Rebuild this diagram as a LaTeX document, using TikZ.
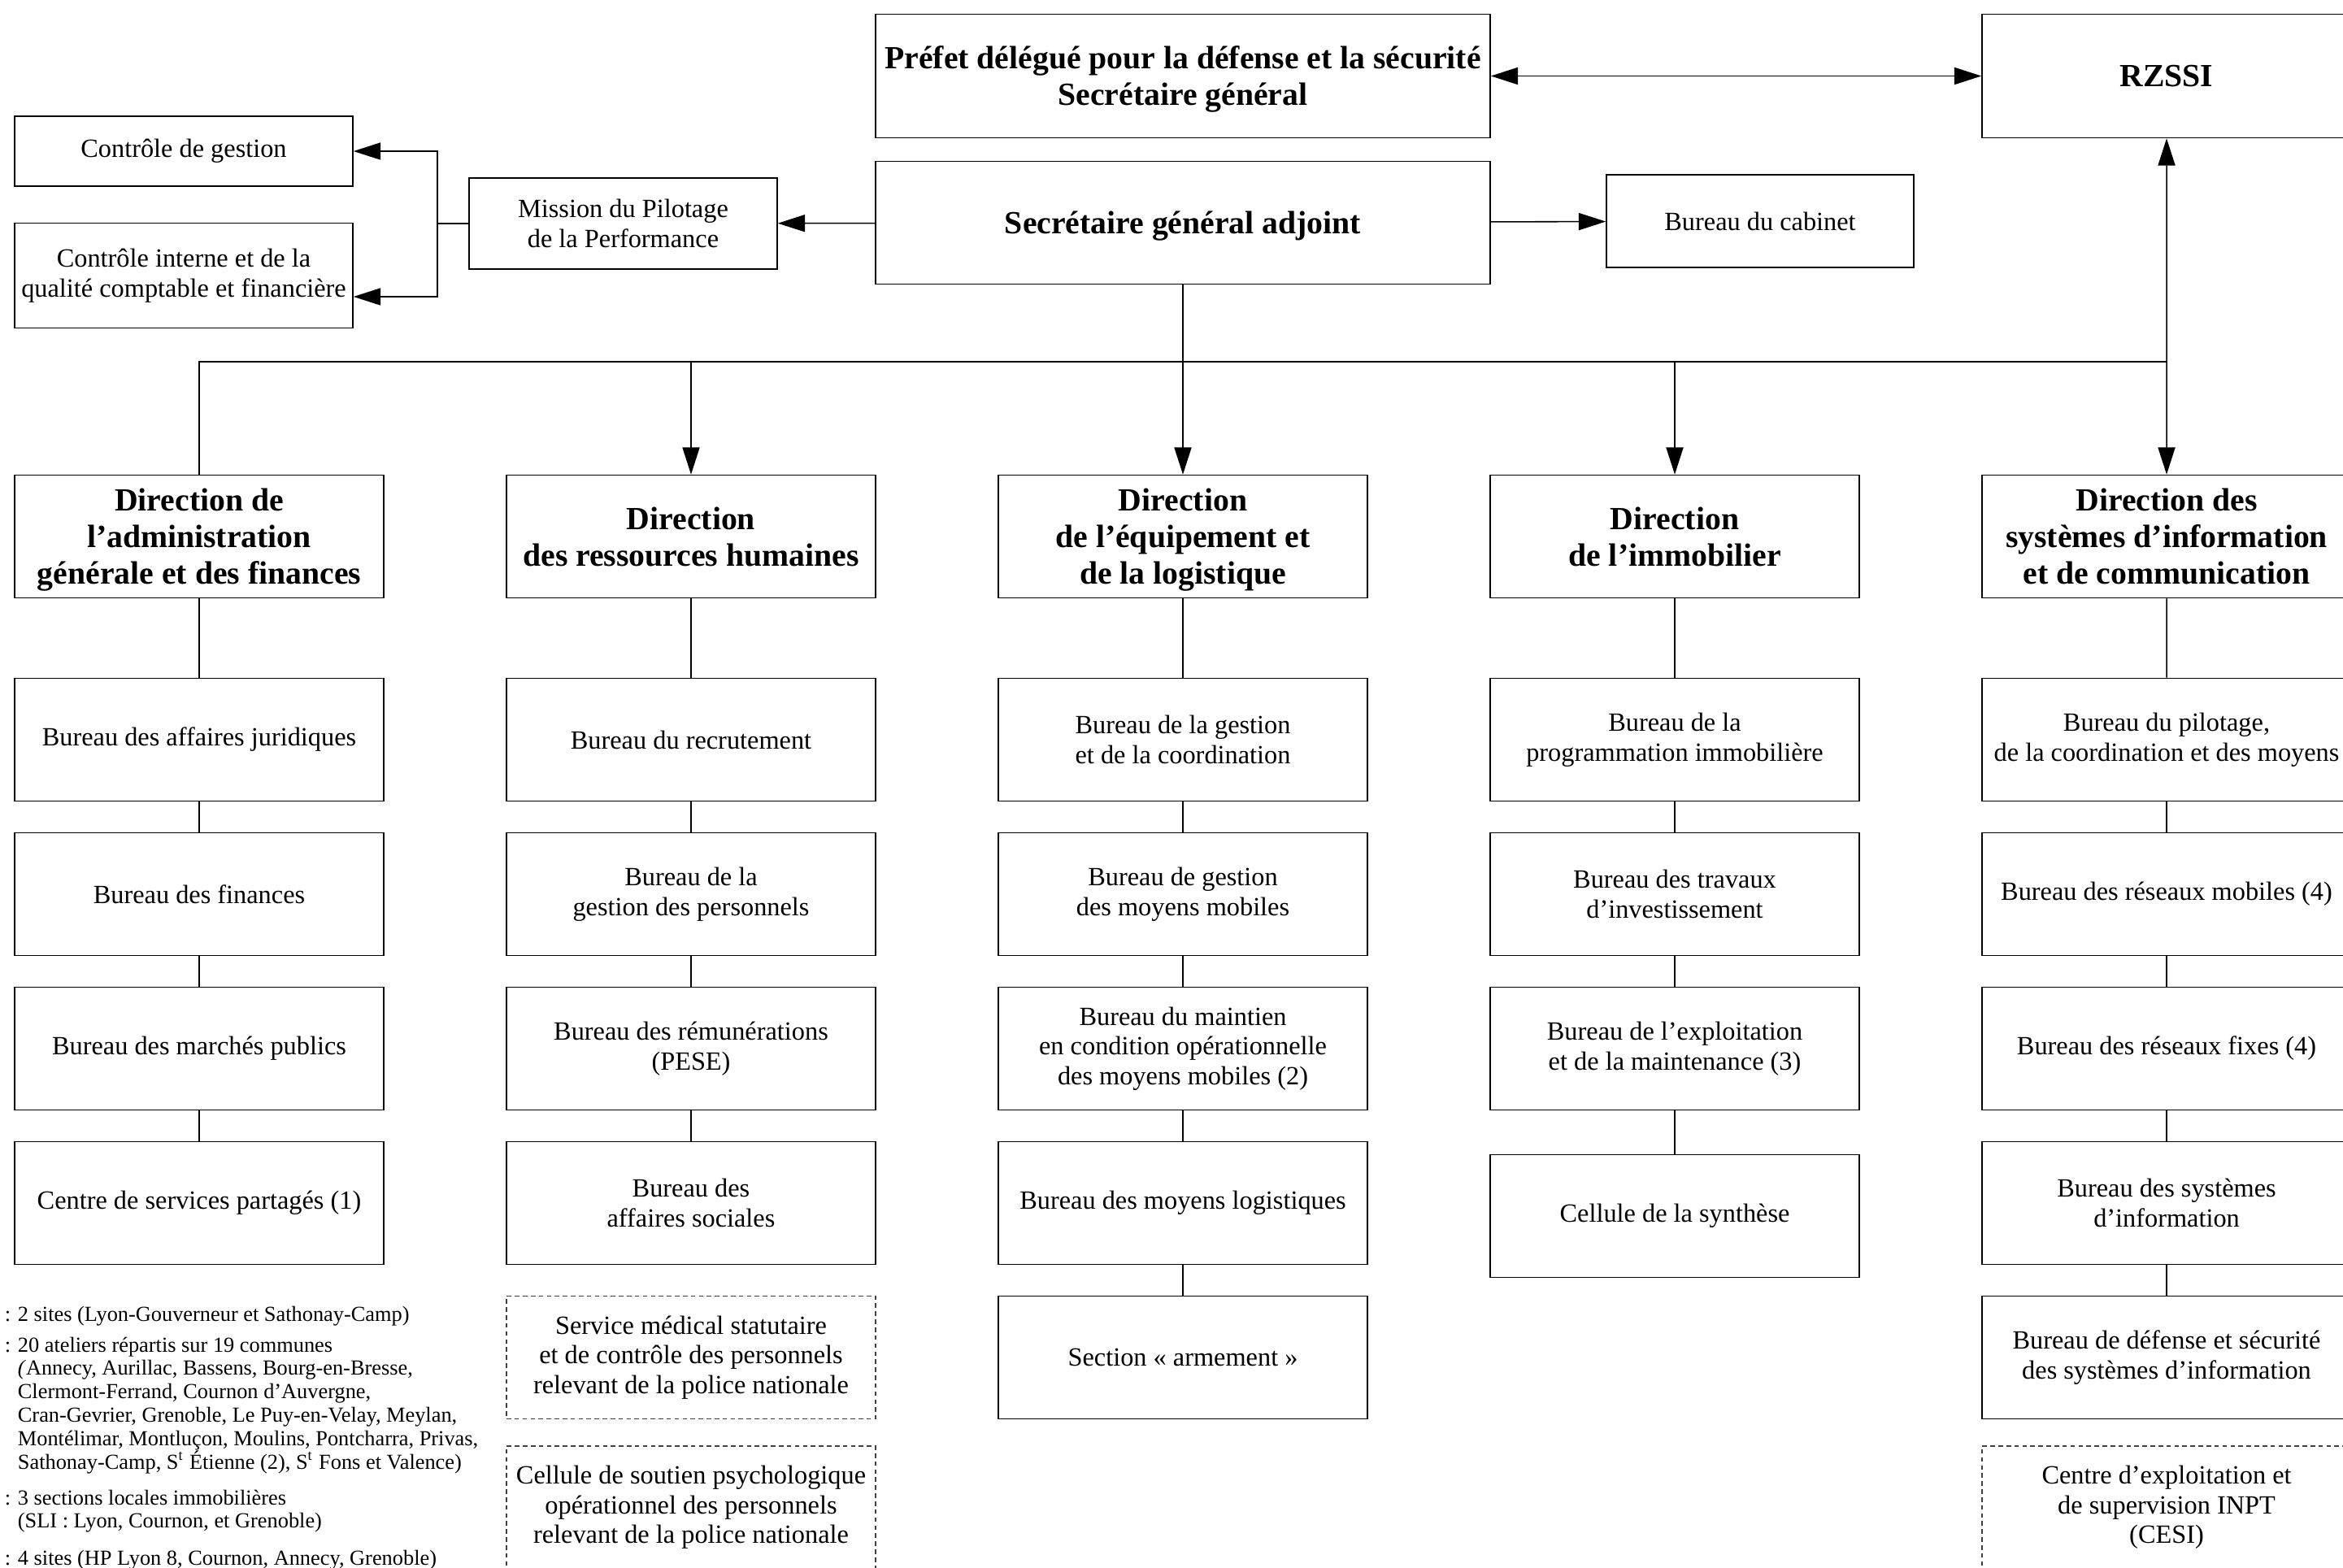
\documentclass[tikz,border=0pt]{standalone}
\usepackage{fontspec}
\setmainfont{Liberation Serif}
\usetikzlibrary{arrows.meta,positioning}

\begin{document}
\begin{tikzpicture}[
    >={Triangle[length=9.5pt,width=6pt]},
    line width=0.45pt,
    box/.style={draw, minimum width=4.54cm, minimum height=1.51cm, inner sep=1pt,
        align=center, font=\fontsize{9.2}{10.4}\selectfont},
    dirbox/.style={box, text depth=0pt, font=\bfseries\fontsize{11.3}{12.8}\selectfont},
    dashbox/.style={box, draw=black!75, dash pattern=on 1.6pt off 1.2pt},
    note/.style={anchor=north west, inner sep=0pt, align=left,
        font=\fontsize{7.5}{8.2}\selectfont}
]
    \useasboundingbox (0,0) rectangle (28.82,-19.28); % page size

    \pgfmathsetmacro {\xa}{2.45}   %x of column 1
    \pgfmathsetmacro {\xb}{8.50}   %x of column 2
    \pgfmathsetmacro {\xc}{14.55}  %x of column 3
    \pgfmathsetmacro {\xd}{20.60}  %x of column 4
    \pgfmathsetmacro {\xe}{26.65}  %x of column 5
    \pgfmathsetmacro {\dx}{6.05}   %Column spacing
    \pgfmathsetmacro {\dy}{1.90}   %Row spacing
    \pgfmathsetmacro {\ya}{-9.10}  %y of first bureau row

    %
    % Top of the chart
    %
    \node[dirbox, minimum width=7.56cm, minimum height=1.52cm] (prefet) at (\xc,-0.935)
        {Préfet délégué pour la défense et la sécurité\\Secrétaire général};
    \node[dirbox, minimum height=1.52cm] (rzssi) at (\xe,-0.935) {RZSSI};
    \node[dirbox, minimum width=7.56cm] (sga) at (\xc,-2.74) {Secrétaire général adjoint};
    \node[box, minimum width=3.79cm, minimum height=1.12cm] (mission) at (7.665,-2.75)
        {Mission du Pilotage\\de la Performance};
    \node[box, minimum width=3.78cm, minimum height=1.14cm] (cabinet) at (21.65,-2.72)
        {Bureau du cabinet};
    \node[box, minimum width=4.16cm, minimum height=0.86cm] (cgestion) at (2.26,-1.86)
        {Contrôle de gestion};
    \node[box, minimum width=4.16cm, minimum height=1.29cm] (cinterne) at (2.26,-3.39)
        {Contrôle interne et de la\\qualité comptable et financière};

    \draw[<->] (prefet) -- (rzssi);
    \draw[->] (sga) -- (mission);
    \draw[->] (sga) -- (cabinet);
    \coordinate (mfork) at (5.38,-2.75);  %Branch point left of mission
    \draw (mission) -- (mfork);
    \draw[->] (mfork) |- (cgestion);
    \draw[->] (mfork) |- ([yshift=-2.6mm]cinterne.east);

    %
    % Directions
    %
    \foreach \nm/\txt [count=\i] in {
        dagf/{Direction de\\l’administration\\générale et des finances},
        drh/{Direction\\des ressources humaines},
        del/{Direction\\de l’équipement et\\de la logistique},
        dimm/{Direction\\de l’immobilier},
        dsic/{Direction des\\systèmes d’information\\et de communication}} {
        \pgfmathsetmacro {\x}{\xa+(\i-1)*\dx}
        \node[dirbox] (\nm) at (\x,-6.60) {\txt};
    }

    \coordinate (bus) at (\xc,-4.45);  %Horizontal line below SGA
    \draw[->] (sga) -- (del);
    \draw (dagf) |- (bus) -- (bus -| dsic);
    \draw[->] (bus -| drh) -- (drh);
    \draw[->] (bus -| dimm) -- (dimm);
    \draw[<->] (rzssi) -- (dsic);

    %
    % Bureaux below each direction
    %
    \foreach \txt [count=\k] in {{Bureau des affaires juridiques}, {Bureau des finances},
        {Bureau des marchés publics}, {Centre de services partagés (1)}} {
        \pgfmathtruncatemacro {\p}{\k-1}
        \node[box] (dagf\k) at (\xa,{\ya-(\k-1)*\dy}) {\txt};
        \ifnum\k=1 \draw (dagf) -- (dagf1); \else \draw (dagf\p) -- (dagf\k); \fi
    }

    \foreach \txt [count=\k] in {{Bureau du recrutement}, {Bureau de la\\gestion des personnels},
        {Bureau des rémunérations\\(PESE)}, {Bureau des\\affaires sociales}} {
        \pgfmathtruncatemacro {\p}{\k-1}
        \node[box] (drh\k) at (\xb,{\ya-(\k-1)*\dy}) {\txt};
        \ifnum\k=1 \draw (drh) -- (drh1); \else \draw (drh\p) -- (drh\k); \fi
    }

    \foreach \txt [count=\k] in {{Bureau de la gestion\\et de la coordination},
        {Bureau de gestion\\des moyens mobiles},
        {Bureau du maintien\\en condition opérationnelle\\des moyens mobiles (2)},
        {Bureau des moyens logistiques}, {Section « armement »}} {
        \pgfmathtruncatemacro {\p}{\k-1}
        \node[box] (del\k) at (\xc,{\ya-(\k-1)*\dy}) {\txt};
        \ifnum\k=1 \draw (del) -- (del1); \else \draw (del\p) -- (del\k); \fi
    }

    \foreach \txt [count=\k] in {{Bureau de la\\programmation immobilière},
        {Bureau des travaux\\d’investissement},
        {Bureau de l’exploitation\\et de la maintenance (3)}} {
        \pgfmathtruncatemacro {\p}{\k-1}
        \node[box] (dimm\k) at (\xd,{\ya-(\k-1)*\dy}) {\txt};
        \ifnum\k=1 \draw (dimm) -- (dimm1); \else \draw (dimm\p) -- (dimm\k); \fi
    }
    \node[box] (dimm4) at (\xd,-14.96) {Cellule de la synthèse};
    \draw (dimm3) -- (dimm4);

    \foreach \txt [count=\k] in {{Bureau du pilotage,\\de la coordination et des moyens},
        {Bureau des réseaux mobiles (4)}, {Bureau des réseaux fixes (4)},
        {Bureau des systèmes\\d’information},
        {Bureau de défense et sécurité\\des systèmes d’information}} {
        \pgfmathtruncatemacro {\p}{\k-1}
        \node[box] (dsic\k) at (\xe,{\ya-(\k-1)*\dy}) {\txt};
        \ifnum\k=1 \draw (dsic) -- (dsic1); \else \draw (dsic\p) -- (dsic\k); \fi
    }

    %
    % Units without link (dashed)
    %
    \node[dashbox] (medical) at (\xb,-16.70)
        {Service médical statutaire\\et de contrôle des personnels\\relevant de la police nationale};
    \node[dashbox] (soutien) at (\xb,-18.545)
        {Cellule de soutien psychologique\\opérationnel des personnels\\relevant de la police nationale};
    \node[dashbox] (cesi) at (\xe,-18.545)
        {Centre d’exploitation et\\de supervision INPT\\(CESI)};

    %
    % Notes at the bottom left
    %
    \node[note] (note1) at (0.05,-16.06) {: 2 sites (Lyon-Gouverneur et Sathonay-Camp)};
    \node[note] (note2) at (0.05,-16.44) {: 20 ateliers répartis sur 19 communes\\
        \phantom{: }\textit{(}Annecy, Aurillac, Bassens, Bourg-en-Bresse,\\
        \phantom{: }Clermont-Ferrand, Cournon d’Auvergne,\\
        \phantom{: }Cran-Gevrier, Grenoble, Le Puy-en-Velay, Meylan,\\
        \phantom{: }Montélimar, Montluçon, Moulins, Pontcharra, Privas,\\
        \phantom{: }Sathonay-Camp, S\textsuperscript{t} Étienne (2), S\textsuperscript{t} Fons et Valence)};
    \node[note] (note3) at (0.05,-18.32) {: 3 sections locales immobilières\\
        \phantom{: }(SLI : Lyon, Cournon, et Grenoble)};
    \node[note] (note4) at (0.05,-19.06) {: 4 sites (HP Lyon 8, Cournon, Annecy, Grenoble)};
\end{tikzpicture}
\end{document}
